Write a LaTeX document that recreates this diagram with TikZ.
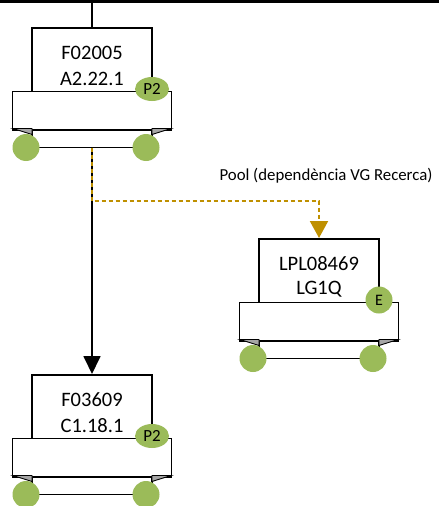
\documentclass[tikz,border=0pt]{standalone}
\usepackage{fontspec}
\setmainfont{Carlito}
\usetikzlibrary{arrows.meta,shapes.geometric}
\definecolor{mgreen}{HTML}{9BBB59}
\definecolor{dorange}{HTML}{BF9000}
\definecolor{wedge}{HTML}{A6A6A6}
\tikzset{
  toprect/.style={draw=black,line width=1.6pt,fill=white,minimum width=120pt,minimum height=63.5pt,anchor=north,inner sep=0pt},
  lowrect/.style={draw=black,line width=1.6pt,fill=white,minimum width=159pt,minimum height=38.5pt,anchor=north,inner sep=0pt},
  wheel/.style={circle,fill=mgreen,minimum size=27pt,inner sep=0pt},
  badgeP/.style={ellipse,fill=mgreen,minimum width=34pt,minimum height=24pt,inner sep=0pt,font=\fontsize{17}{17}\selectfont},
  badgeE/.style={circle,fill=mgreen,minimum size=27pt,inner sep=0pt,font=\fontsize{16}{16}\selectfont},
  boxtext/.style={font=\fontsize{20.5}{20.5}\selectfont,inner sep=0pt},
  labeltext/.style={font=\fontsize{16.8}{17}\selectfont,inner sep=0pt},
  frame/.style={draw=black,line width=1.6pt},
}
\newcommand{\mymachine}[7]{%
  \begin{scope}[shift={(#2,#3)}]
    \coordinate (#1base) at (0,120.5);
    \draw[frame] (-60,101.5) -- (-60,120.5) -- (60,120.5) -- (60,101.5);
    \node[lowrect] (#1low) at (0,63.5) {};
    \filldraw[fill=wedge,draw=black,line width=0.9pt] (-79,101.5) -- (-60,101.5) -- (-60,107.5) -- cycle;
    \filldraw[fill=wedge,draw=black,line width=0.9pt] (79,101.5) -- (60,101.5) -- (60,107.5) -- cycle;
    \node[toprect] (#1) at (0,0) {};
    \node[boxtext] (#1a) at (0,26) {#4};
    \node[boxtext] (#1b) at (0,51.5) {#5};
    \node[#6] (#1badge) at (60,62) {#7};
    \node[wheel] (#1wl) at (-66,120.5) {};
    \node[wheel] (#1wr) at (54,120.5) {};
  \end{scope}}
\begin{document}
\begin{tikzpicture}[x=1pt,y=-1pt]
\useasboundingbox (0,0) rectangle (439,506);
\coordinate (topL) at (0,1.5);
\coordinate (topR) at (439,1.5);
\coordinate (topM) at (92,0);
\draw[line width=3pt] (topL) -- (topR);
\mymachine{fa}{92}{27}{F02005}{A2.22.1}{badgeP}{P2}
\mymachine{fb}{319}{238}{LPL08469}{LG1Q}{badgeE}{E}
\mymachine{fc}{92}{374}{F03609}{C1.18.1}{badgeP}{P2}
\draw[line width=1.8pt] (topM) -- (fa.north);
\draw[line width=1.8pt,-{Triangle[width=17pt,length=18pt]}] (fabase) -- (fc.north);
\coordinate (bend) at (92,201);
\draw[dorange,line width=2pt,dash pattern=on 4pt off 3pt,-{Triangle[width=18pt,length=17pt]}] (fabase) -- (bend) -| (fb.north);
\node[labeltext] (pool) at (326,176) {Pool (dependència VG Recerca)};
\end{tikzpicture}
\end{document}
